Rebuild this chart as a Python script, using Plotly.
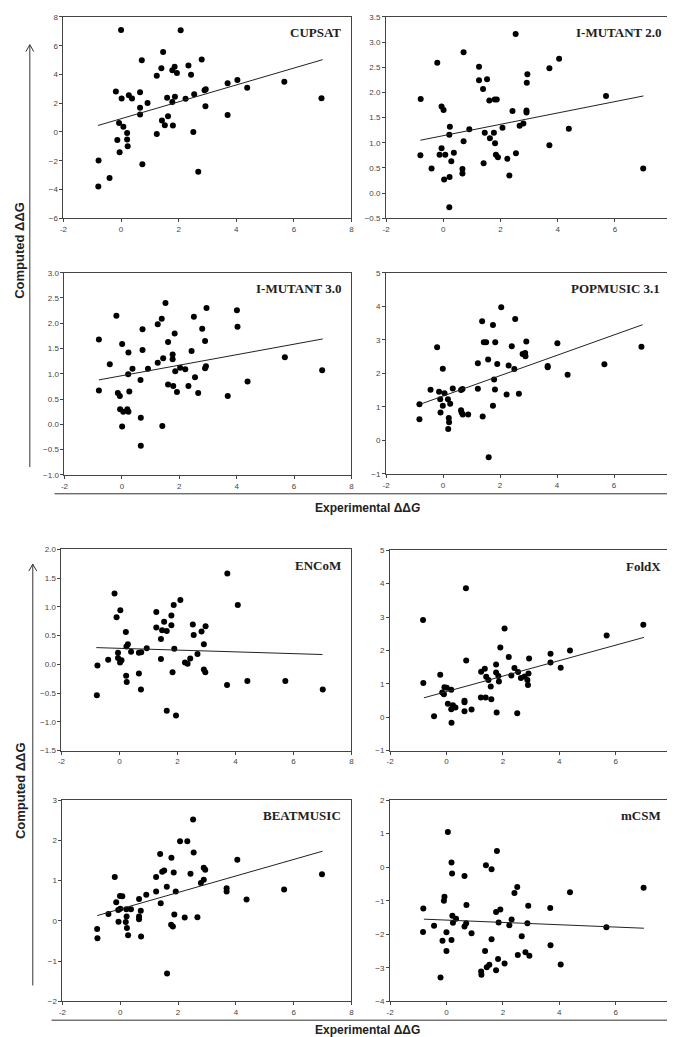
import plotly.graph_objects as go

W, H = 675, 1037

# ---- data ----
panel_names = ["CUPSAT", "I-MUTANT 2.0", "I-MUTANT 3.0", "POPMUSIC 3.1",
               "ENCoM", "FoldX", "BEATMUSIC", "mCSM"]

cupsat_x = [0.0, 2.07, 1.46, 0.72, 2.8, 1.40, 1.24, 1.78, 1.86, 1.94, 2.34, 2.43, -0.18, 0.02, 0.27,
            0.38, 0.66, 0.92, 0.66, 0.66, 1.6, 1.78, 1.87, 2.24, 2.54, 2.90, 2.94, 2.93, 3.70, 4.04,
            4.38, 5.67, 6.96, 3.70, -0.07, 0.08, 1.42, 1.52, 1.63, 1.80, 1.24, 2.51, -0.13, 0.21,
            0.21, 0.23, -0.05, -0.78, 0.74, -0.40, -0.79, 2.68]
cupsat_y = [7.1, 7.08, 5.57, 4.99, 5.04, 4.44, 3.91, 4.30, 4.53, 4.10, 4.63, 3.98, 2.81, 2.33, 2.56,
            2.33, 2.77, 2.01, 1.69, 1.21, 2.38, 2.08, 2.45, 2.31, 2.63, 2.90, 2.97, 1.78, 3.39, 3.62,
            3.07, 3.50, 2.35, 1.18, 0.63, 0.36, 0.79, 0.47, 1.09, 0.45, -0.15, -0.01, -0.56, -0.52,
            -0.08, -1.00, -1.41, -1.98, -2.24, -3.20, -3.80, -2.76]

imut2_x = [2.53, 0.71, -0.21, 1.25, 1.25, 1.53, 1.39, 1.61, 1.80, 1.87, -0.79, -0.06, 0.01, 2.42,
           2.91, 2.91, 3.71, 4.05, 2.94, 2.92, 5.69, 0.23, 0.21, 0.91, 1.45, 1.77, 2.07, 2.67, 2.80,
           4.39, 1.63, 1.81, 0.71, -0.06, -0.13, 0.07, 0.37, -0.80, 1.84, 1.91, 2.24, 2.54, 3.71,
           0.28, -0.41, 0.67, 0.67, 1.41, 0.03, 0.22, 2.31, 6.99, 0.21]
imut2_y = [3.16, 2.80, 2.59, 2.51, 2.24, 2.26, 2.07, 1.84, 1.86, 1.86, 1.87, 1.72, 1.65, 1.63,
           1.64, 1.60, 2.48, 2.67, 2.36, 2.19, 1.93, 1.32, 1.16, 1.27, 1.20, 1.20, 1.30, 1.34, 1.38,
           1.28, 1.09, 0.99, 1.03, 0.89, 0.76, 0.76, 0.80, 0.75, 0.76, 0.71, 0.68, 0.79, 0.95,
           0.63, 0.49, 0.48, 0.39, 0.59, 0.27, 0.32, 0.35, 0.49, -0.28]

imut3_x = [1.52, -0.19, 2.95, 4.01, 1.39, 1.25, 2.51, 0.72, 2.80, 4.03, -0.80, 1.84, 1.61, 2.90,
           0.01, 0.72, 0.23, 2.43, 1.77, 1.77, 1.44, 1.25, 5.68, -0.42, 0.37, 0.91, 2.03, 2.21,
           1.86, 2.93, 2.90, 6.98, 0.22, 0.65, 2.55, 4.38, 1.61, 1.79, 2.32, -0.80, -0.14, -0.07,
           0.26, 1.92, 2.66, 3.69, -0.06, 0.05, 0.19, 0.23, 0.66, 0.01, 1.41, 0.66]
imut3_y = [2.40, 2.15, 2.30, 2.26, 2.09, 1.98, 2.13, 1.88, 1.89, 1.93, 1.68, 1.80, 1.63, 1.65,
           1.59, 1.47, 1.42, 1.45, 1.38, 1.29, 1.31, 1.22, 1.33, 1.19, 1.10, 1.10, 1.12, 1.09,
           1.05, 1.15, 1.11, 1.07, 0.99, 0.88, 0.93, 0.85, 0.79, 0.76, 0.76, 0.67, 0.62, 0.56,
           0.65, 0.64, 0.62, 0.56, 0.30, 0.25, 0.30, 0.25, 0.13, -0.04, -0.03, -0.42]

pop_x = [2.04, 1.37, 2.53, 1.75, 1.43, 1.51, 1.83, 2.92, 4.01, 2.41, -0.21, 6.96, 2.79, 2.88, 2.89,
         1.58, 1.22, 1.90, 2.30, 3.67, 3.67, 5.66, -0.01, 2.50, 4.37, 1.79, 1.82, 1.22, 0.34,
         -0.44, -0.14, 0.05, 0.68, 0.63, 2.23, 2.66, -0.83, -0.10, 0.17, 0.25, -0.01, 1.75, -0.09,
         0.63, 0.65, 0.69, 0.88, 1.39, 0.20, 0.21, -0.83, 0.18, 1.60]
pop_y = [3.97, 3.55, 3.62, 3.44, 2.93, 2.93, 2.93, 2.95, 2.90, 2.81, 2.78, 2.79, 2.58, 2.61, 2.51,
         2.41, 2.30, 2.28, 2.23, 2.22, 2.18, 2.27, 2.14, 2.13, 1.96, 1.82, 1.52, 1.54, 1.55,
         1.51, 1.45, 1.41, 1.53, 1.50, 1.37, 1.39, 1.08, 1.23, 1.23, 1.09, 1.03, 1.03, 0.83,
         0.90, 0.83, 0.77, 0.77, 0.71, 0.67, 0.54, 0.63, 0.34, -0.50]

encom_x = [3.72, -0.17, 4.08, 2.10, 1.87, 0.03, -0.10, 1.27, 1.79, 1.54, 1.27, 1.79, 2.53, 2.97,
           1.47, 1.63, 0.22, 2.83, 2.56, 1.43, 2.91, 0.29, 0.24, 0.94, 1.89, 0.40, 0.75, 0.67,
           -0.05, -0.05, -0.39, 1.43, 2.44, 2.69, 0.07, 0.02, 2.26, 2.35, -0.76, 2.91, 2.96, 1.83,
           0.23, 0.67, 0.25, 3.71, 4.41, 5.72, 0.74, 7.01, -0.78, 1.63, 1.95]
encom_y = [1.58, 1.23, 1.03, 1.12, 1.03, 0.94, 0.82, 0.91, 0.85, 0.74, 0.64, 0.68, 0.69, 0.66,
           0.59, 0.58, 0.56, 0.57, 0.51, 0.44, 0.35, 0.35, 0.31, 0.28, 0.27, 0.22, 0.21, 0.20,
           0.20, 0.11, 0.08, 0.09, 0.10, 0.18, 0.07, 0.03, 0.03, 0.01, -0.02, -0.09, -0.14, -0.14,
           -0.20, -0.16, -0.31, -0.36, -0.29, -0.29, -0.44, -0.44, -0.54, -0.81, -0.89]

foldx_x = [0.69, -0.83, 2.06, 6.98, 5.68, 1.91, 4.38, 3.69, 2.21, 2.93, 0.70, 3.69, 1.76, 4.05,
           1.36, 2.41, 1.76, 1.23, 2.54, -0.22, 2.91, 1.41, 1.84, 2.30, 2.77, 2.64, 1.49, 1.86,
           2.87, -0.82, 2.89, 1.57, -0.07, 0.01, 0.17, -0.15, -0.09, 1.22, 1.39, 1.59, 0.64, 0.64,
           0.05, 0.23, 0.32, 0.17, 0.64, 0.89, 1.78, 2.51, -0.44, 0.18]
foldx_y = [3.86, 2.91, 2.66, 2.77, 2.45, 2.09, 2.00, 1.90, 1.80, 1.76, 1.70, 1.64, 1.58, 1.48,
           1.45, 1.47, 1.34, 1.36, 1.35, 1.27, 1.31, 1.21, 1.23, 1.25, 1.22, 1.17, 1.11, 1.07,
           1.11, 1.02, 0.96, 0.92, 0.90, 0.88, 0.82, 0.74, 0.69, 0.59, 0.59, 0.54, 0.49, 0.45,
           0.40, 0.36, 0.29, 0.24, 0.18, 0.23, 0.14, 0.12, 0.03, -0.17]

beat_x = [2.52, 2.07, 2.32, 1.38, 2.54, 1.77, 1.52, 1.45, 1.85, 2.43, 2.89, 2.94, 4.05, 6.98,
          -0.19, 1.24, 2.89, 2.79, 1.61, 3.68, 3.68, 5.67, -0.01, 0.07, 1.24, 1.92, 0.90, 0.65,
          4.37, -0.14, 1.40, 0.00, -0.07, 0.21, 0.37, 0.71, -0.41, 0.65, 0.22, 0.65, 1.87, 2.23,
          2.67, -0.06, 0.19, 1.76, 1.82, -0.80, 0.23, 0.27, 0.72, -0.79, 1.62]
beat_y = [2.52, 1.98, 1.98, 1.66, 1.70, 1.57, 1.25, 1.22, 1.20, 1.17, 1.32, 1.27, 1.52, 1.16,
          1.09, 1.09, 1.02, 0.94, 0.85, 0.81, 0.73, 0.78, 0.62, 0.61, 0.73, 0.73, 0.65, 0.54,
          0.53, 0.46, 0.44, 0.30, 0.27, 0.29, 0.29, 0.25, 0.17, 0.11, 0.11, 0.04, 0.16, 0.08,
          0.09, -0.02, -0.03, -0.10, -0.14, -0.20, -0.18, -0.36, -0.39, -0.43, -1.31]

mcsm_x = [0.05, 1.79, 0.18, 1.40, 1.60, 0.20, 0.64, 2.51, 6.99, 2.41, 4.38, -0.07, -0.09, 0.71,
          2.90, -0.82, 3.68, 1.91, 1.76, 0.21, 0.34, 2.31, 0.23, 0.70, 1.85, 2.87, 2.23, -0.44,
          0.64, 5.67, -0.83, 0.00, 0.89, 2.67, -0.14, 0.18, 1.60, 3.69, 0.00, 1.37, 2.80, 2.53,
          2.94, 1.83, 2.06, 4.05, 1.52, 1.43, 1.76, 1.23, 1.24, -0.21]
mcsm_y = [1.05, 0.48, 0.14, 0.06, -0.06, -0.19, -0.26, -0.59, -0.61, -0.77, -0.75, -0.88, -1.00,
          -1.13, -1.15, -1.23, -1.22, -1.26, -1.34, -1.45, -1.54, -1.56, -1.66, -1.67, -1.65,
          -1.67, -1.73, -1.75, -1.77, -1.79, -1.93, -1.94, -1.97, -2.06, -2.19, -2.17, -2.15,
          -2.33, -2.50, -2.50, -2.54, -2.62, -2.64, -2.74, -2.87, -2.90, -2.91, -2.98, -3.07,
          -3.11, -3.21, -3.29]

# regression lines: x span and end values
fit_x = [-0.8, 7.0]
fit_y = [[0.45, 5.03], [1.05, 1.93], [0.88, 1.69], [1.08, 3.45],
         [0.29, 0.17], [0.58, 2.39], [0.13, 1.73], [-1.55, -1.82]]

x_ticks = [-2, 0, 2, 4, 6, 8]
y_ranges = [[-6, 8], [-0.5, 3.5], [-1, 3], [-1, 5], [-1.5, 2], [-1, 5], [-2, 3], [-4, 2]]
y_dticks = [2, 0.5, 0.5, 1, 0.5, 1, 1, 1]

series = [(cupsat_x, cupsat_y), (imut2_x, imut2_y), (imut3_x, imut3_y), (pop_x, pop_y),
          (encom_x, encom_y), (foldx_x, foldx_y), (beat_x, beat_y), (mcsm_x, mcsm_y)]

# plot boxes in pixels: left, right, top, bottom
boxes = [(52, 343, 5, 208), (378, 667, 5, 208),
         (53, 343, 263, 467), (378, 666, 263, 466),
         (50, 343, 542, 745), (382, 667, 543, 745),
         (51, 343, 795, 998), (382, 667, 795, 998)]


def px(x):
    return x / W


def py(y):
    return 1 - y / H


fig = go.Figure()
layout = dict(width=W, height=H, margin=dict(l=0, r=0, t=0, b=0),
              paper_bgcolor="white", plot_bgcolor="white", showlegend=False)
annotations = []
shapes = []
tick_font = dict(family="Arial", size=8, color="#444")

for i, (name, (xs, ys)) in enumerate(zip(panel_names, series)):
    n = i + 1
    xa = "x" if n == 1 else f"x{n}"
    ya = "y" if n == 1 else f"y{n}"
    fig.add_trace(go.Scatter(x=xs, y=ys, mode="markers", xaxis=xa, yaxis=ya,
                             marker=dict(color="black", size=6)))
    fig.add_trace(go.Scatter(x=fit_x, y=fit_y[i], mode="lines", xaxis=xa, yaxis=ya,
                             line=dict(color="#222", width=1)))
    l, r, t, b = boxes[i]
    axstyle = dict(showline=True, mirror=True, linecolor="#444", linewidth=1,
                   ticks="outside", ticklen=3, tickcolor="#444", showgrid=False,
                   zeroline=False, tickfont=tick_font)
    right_col = (i % 2 == 1)
    # plotly drops the last tick label at the page edge, so the right column writes it itself
    shown = x_ticks[:-1] if right_col else x_ticks
    layout["xaxis" if n == 1 else f"xaxis{n}"] = dict(
        domain=[px(l), px(r)], range=[-2, 8], anchor=ya, tickmode="array",
        tickvals=x_ticks, ticktext=[str(v) if v in shown else "" for v in x_ticks], **axstyle)
    if right_col:
        annotations.append(dict(text=str(x_ticks[-1]), x=x_ticks[-1], xref=xa,
                                y=py(b + 10), yref="paper", xanchor="center",
                                yanchor="middle", showarrow=False, font=tick_font))
    layout["yaxis" if n == 1 else f"yaxis{n}"] = dict(
        domain=[py(b), py(t)], range=y_ranges[i], dtick=y_dticks[i], anchor=xa,
        tickformat=".1f" if y_dticks[i] < 1 else "d", **axstyle)
    annotations.append(dict(text=f"<b>{name}</b>", x=px(r - 9), y=py(t + 16),
                            xref="paper", yref="paper", xanchor="right", yanchor="middle",
                            showarrow=False,
                            font=dict(family="Times New Roman, Liberation Serif", size=13,
                                      color="#222")))

# big axis arrows and labels
lab_font = dict(family="Arial, Liberation Sans", size=13, color="#222")
for (vx, vtop, vbot, hy, hx0, ytext, xlab, ylab) in [
        (18, 33, 459, 486, 43, 500, "<b>Experimental ΔΔ<i>G</i></b>", 240),
        (21, 557, 982, 1017, 40, 1027, "<b>Experimental ΔΔG</b>", 785)]:
    shapes.append(dict(type="line", xref="paper", yref="paper", x0=px(vx), x1=px(vx),
                       y0=py(vbot), y1=py(vtop), line=dict(color="#333", width=1)))
    shapes.append(dict(type="line", xref="paper", yref="paper", x0=px(vx - 4), x1=px(vx),
                       y0=py(vtop + 7), y1=py(vtop), line=dict(color="#333", width=1)))
    shapes.append(dict(type="line", xref="paper", yref="paper", x0=px(vx + 4), x1=px(vx),
                       y0=py(vtop + 7), y1=py(vtop), line=dict(color="#333", width=1)))
    shapes.append(dict(type="line", xref="paper", yref="paper", x0=px(hx0), x1=px(671),
                       y0=py(hy), y1=py(hy), line=dict(color="#333", width=1)))
    shapes.append(dict(type="line", xref="paper", yref="paper", x0=px(664), x1=px(671),
                       y0=py(hy - 4), y1=py(hy), line=dict(color="#333", width=1)))
    shapes.append(dict(type="line", xref="paper", yref="paper", x0=px(664), x1=px(671),
                       y0=py(hy + 4), y1=py(hy), line=dict(color="#333", width=1)))
    annotations.append(dict(text=xlab, x=px(359), y=py(ytext), xref="paper", yref="paper",
                            xanchor="center", yanchor="middle", showarrow=False,
                            font=dict(family="Arial, Liberation Sans", size=12, color="#222")))
    annotations.append(dict(text="<b>Computed ΔΔG</b>", x=px(8), y=py(ylab), xref="paper",
                            yref="paper", xanchor="center", yanchor="middle", textangle=-90,
                            showarrow=False, font=lab_font))

layout["annotations"] = annotations
layout["shapes"] = shapes
fig.update_layout(**layout)
fig.write_html("out.html")
